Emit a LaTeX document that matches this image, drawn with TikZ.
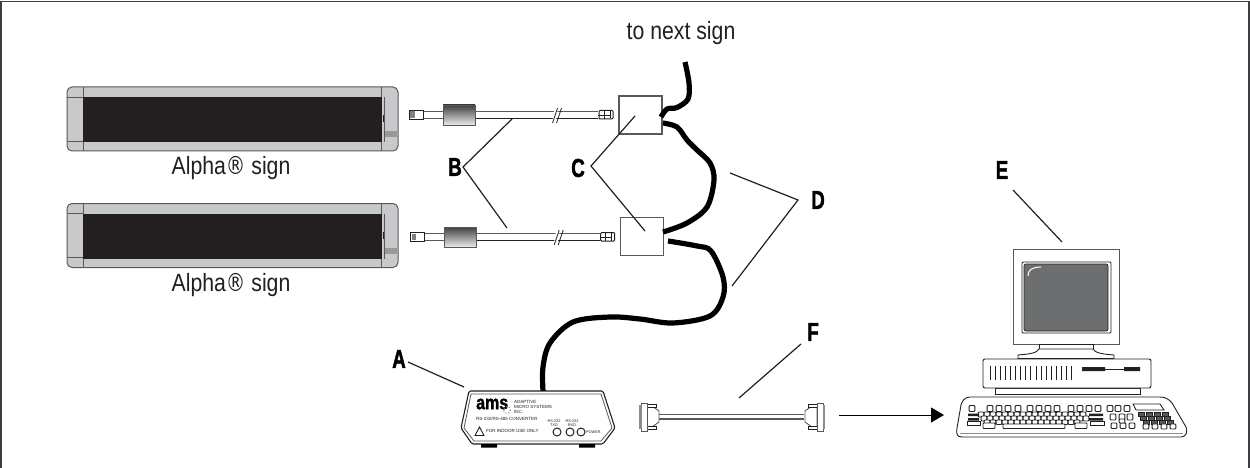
\documentclass[tikz,border=0pt]{standalone}
\usepackage{fontspec}
\usetikzlibrary{arrows.meta}
\setmainfont{Liberation Sans}
\newfontface\condreg[FakeStretch=0.85]{Liberation Sans}
\newfontface\regmark[FakeStretch=0.78]{DejaVu Sans}
\newfontface\condbold[FakeStretch=0.72,FakeBold=1.6]{Liberation Sans Bold}
\newfontface\amsbold[FakeStretch=0.82,FakeBold=1.5]{Liberation Sans Bold}
\definecolor{signgray}{HTML}{C8C9CB}
\definecolor{inkblack}{HTML}{231F20}
\definecolor{edgegray}{HTML}{58595B}
\definecolor{screengray}{HTML}{6D6E70}
\tikzset{
  caption/.style={font=\condreg\fontsize{25}{28}\selectfont,inner sep=0pt,text=inkblack},
  letter/.style={font=\condbold\fontsize{26}{28}\selectfont,inner sep=0pt,text=black},
  leader/.style={draw=inkblack,line width=1.2pt},
  thickcable/.style={draw=black,line width=5.2pt},
  tiny/.style={font=\fontsize{4.5}{5}\selectfont,inner sep=0pt,text=inkblack,anchor=west},
  splitter/.style={draw=edgegray,line width=1.1pt,fill=white,minimum width=43pt,minimum height=38pt,inner sep=0pt},
  kkey/.style={draw=inkblack,line width=.95pt,fill=white,rounded corners=.8pt},
  dkey/.style={draw=inkblack,line width=.9pt,fill=edgegray},
  led/.style={draw=inkblack,line width=1pt,fill=white,circle,minimum size=8pt,inner sep=0pt},
}
\newcommand{\signshape}{%
  \fill[signgray,rounded corners=5pt] (67,87) rectangle (398,151);
  \fill[inkblack] (83,97) rectangle (382,142);
  \fill[inkblack] (382.5,115) rectangle (384,122);
  \fill[black!40] (385,131) rectangle (397,137);
  \draw[edgegray,line width=1pt,rounded corners=5pt] (67,87) rectangle (398,151);
  \draw[edgegray,line width=.8pt] (83,87)--(83,97) (83,142)--(83,151) (67,97)--(83,97) (67,141)--(83,141)
    (381,87)--(381,97) (381,142)--(381,151) (384,97)--(384,142);
}
\newcommand{\lancable}{%
  \draw[edgegray,line width=1pt,fill=white] (423,111.5) rectangle (443,118.5);
  \fill[white] (475,111) rectangle (598,119);
  \draw[edgegray,line width=1.1pt] (475,111.5)--(598,111.5);
  \draw[inkblack,line width=1.1pt] (475,118.5)--(598,118.5);
  \fill[white] (554.5,108) -- (558,108) -- (555.5,123) -- (552,123) -- cycle;
  \draw[inkblack,line width=.8pt] (552.5,123)--(557.5,108) (556.5,123)--(561.5,108);
  \draw[edgegray,line width=.8pt,top color=black!75,bottom color=black!8] (443,105) rectangle (475,125);
  \draw[inkblack,line width=.8pt,fill=white] (409,110.5) rectangle (423,119);
  \fill[black!50] (410,111.5) rectangle (414.5,118);
  \draw[inkblack,line width=1pt,fill=white,rounded corners=1pt] (599,110.5) rectangle (613,119);
  \draw[inkblack,line width=.8pt] (604,110.5)--(604,119) (598,115)--(610,115) (610,111)--(610,118.5);
}
\newcommand{\dbend}{%
  \draw[edgegray,line width=.9pt,fill=white] (647,406) -- (652,406) -- (659,411) -- (659,422) -- (652,427) -- (647,427) -- cycle;
  \draw[inkblack,line width=.8pt,fill=white] (647,404) rectangle (656,407);
  \draw[inkblack,line width=.8pt,fill=white] (647,426) rectangle (656,429);
  \draw[edgegray,line width=1pt,fill=white] (641,403) rectangle (647,431);
  \fill[black!45] (639,405) rectangle (641.5,429);
}
\newcommand{\kk}[3]{\draw[kkey] (#1-2.8,#2) rectangle (#1+2.8,#2+#3);}
\begin{document}
\begin{tikzpicture}[x=1pt,y=-1pt]
\useasboundingbox (0,0) rectangle (1250,468);
\fill[white] (0,0) rectangle (1250,468);
\draw[edgegray!70!black,line width=1.6pt] (.8,468) -- (.8,1.5) -- (1249.2,1.5) -- (1249.2,468);

% signs
\signshape
\begin{scope}[shift={(0,116.5)}]\signshape\end{scope}
\node[caption] (cap1) at (231,168) {Alpha{\regmark ®} sign};
\node[caption] (cap2) at (231,285) {Alpha{\regmark ®} sign};
\node[caption] (next) at (681,33) {to next sign};

% sign cables
\lancable
\begin{scope}[shift={(1.7,122)}]\lancable\end{scope}

% splitters
\node[splitter] (box1) at (640.5,115) {};
\node[splitter] (box2) at (642,236.5) {};

% thick cables
\coordinate (nextEnd) at (685,62);
\coordinate (box1a) at (661,117);
\coordinate (box1b) at (663,123);
\coordinate (box2a) at (663,232);
\coordinate (box2b) at (668,241);
\coordinate (amsTop) at (543,391);
\draw[thickcable] plot[smooth,tension=.55] coordinates {(nextEnd) (689,83) (688,99) (677,107.5) (667,109) (box1a)};
\draw[thickcable] plot[smooth,tension=.55] coordinates {(box1b) (677,127) (687,140) (697,150) (710,163) (714,180) (707,207) (687,223) (box2a)};
\draw[thickcable] plot[smooth,tension=.55] coordinates {(box2b) (697,246) (711,251) (723,277) (723,297) (710,316) (673,323) (640,319) (610,317) (573,322) (550,343) (543,367) (amsTop)};

% converter box
\draw[inkblack,line width=1.1pt,fill=white,rounded corners=1.5pt] (469,391) -- (603,391) -- (615,428) -- (603,444) -- (472,444) -- (461,428) -- cycle;
\draw[edgegray,line width=.8pt] (471,394) -- (601,394) -- (612,428) -- (601,441) -- (474,441) -- (464,428) -- cycle;
\fill[black] (481,444) rectangle (497,447.5) (579,444) rectangle (595,447.5);
\node[anchor=west,inner sep=0pt,font=\amsbold\fontsize{19.5}{22}\selectfont,text=black] (amslogo) at (476,404) {ams};
\draw[gray,line width=1pt,dotted] (507,410) circle (3.5);
\node[tiny] (t1) at (514,402) {ADAPTIVE};
\node[tiny] (t2) at (514,407) {MICRO SYSTEMS};
\node[tiny] (t3) at (514,412) {INC.};
\node[tiny] (t4) at (476,419) {RS-232/RS-485 CONVERTER};
\node[tiny] (t5) at (486,431) {FOR INDOOR USE ONLY};
\node[tiny,anchor=center,font=\fontsize{3.8}{4}\selectfont,align=center] (t6) at (554,423) {RS-232\\[-.5pt]TXD};
\node[tiny,anchor=center,font=\fontsize{3.8}{4}\selectfont,align=center] (t7) at (572,423) {RS-232\\[-.5pt]RXD};
\node[tiny,font=\fontsize{3.8}{4}\selectfont] (t8) at (586,432) {POWER};
\draw[inkblack,line width=.9pt,fill=white] (475,435.5) -- (479.5,427) -- (484,435.5) -- cycle;
\node[led] (l1) at (557,432) {};
\node[led] (l2) at (570,432) {};
\node[led] (l3) at (581,432) {};

% serial cable
\coordinate (dbL) at (659,416.5);
\coordinate (dbR) at (804,416.5);
\draw[edgegray,line width=6pt] (dbL) -- (dbR);
\draw[white,line width=3pt] (dbL) -- (dbR);
\dbend
\begin{scope}[shift={(1464,0)},xscale=-1]\dbend\end{scope}

% arrow
\coordinate (arrS) at (839,415);
\coordinate (arrE) at (944,415);
\draw[draw=black,line width=.9pt,-{Triangle[length=13pt,width=15pt]}] (arrS) -- (arrE);

% monitor
\draw[edgegray,line width=1pt,fill=white] (1013,249) rectangle (1119,344);
\draw[inkblack,line width=.8pt,rounded corners=1pt] (1022,262) rectangle (1111,333);
\fill[screengray,rounded corners=2pt,draw=inkblack,line width=.7pt] (1024,264) rectangle (1108,331);
\draw[white,line width=1pt] (1028,276) .. controls (1028,270) and (1032,267) .. (1041,267);
\draw[inkblack,line width=.9pt,fill=white] (1039,344) rectangle (1093,349);
\draw[inkblack,line width=.9pt,fill=white] (1039,349) .. controls (1037,353) and (1030,354) .. (1018,355) -- (1018,358.5) -- (1114,358.5) -- (1114,355) .. controls (1102,354) and (1095,353) .. (1093,349) -- cycle;
% system unit
\draw[inkblack,line width=.9pt,fill=white] (995,388) rectangle (1140,394);
\draw[inkblack,line width=.9pt,fill=white,rounded corners=2pt] (983,359) rectangle (1151,388);
\foreach \v in {0,...,16} {\draw[inkblack,line width=.8pt] ({990+\v*5.1},366) -- ({990+\v*5.1},380);}
\fill[inkblack] (1082,367) rectangle (1105,371) (1124,367) rectangle (1140,371);
\draw[inkblack,line width=1pt] (1105,369) -- (1124,369);
% keyboard
\draw[inkblack,line width=.9pt,fill=white] (970,397) .. controls (964,397) and (962,402) .. (961,405) -- (957,428) .. controls (956,434) and (957,437) .. (962,437) -- (1181,437) .. controls (1186,437) and (1188,432) .. (1186,427) -- (1172,403) .. controls (1169,399) and (1165,397) .. (1160,397) -- cycle;
\draw[black!45,line width=.8pt] (960,433.5) -- (1183,433.5);
\foreach \x in {972,990,999,1008,1018,1030,1039,1048,1057,1071,1080,1089,1098,1110,1118,1127} {\kk{\x}{405.5}{6}}
\foreach \x in {981,987,993,999,1005,1011,1017,1023,1029,1035,1041,1047,1053,1059,1065,1071,1077,1083} {\kk{\x}{412}{5}}
\foreach \x in {984,990,996,1002,1008,1014,1020,1026,1032,1038,1044,1050,1056,1062,1068,1074,1080,1086} {\kk{\x}{416}{5}}
\foreach \x in {987,993,999,1005,1011,1017,1023,1029,1035,1041,1047,1053,1059,1065,1071,1077} {\kk{\x}{420}{4.5}}
\fill[inkblack] (968,413.5) rectangle (979,416) (968,418) rectangle (979,420.5) (1089,413.5) rectangle (1103,416) (1089,418) rectangle (1103,420.5);
\draw[inkblack,line width=.9pt,fill=white] (967.5,421) rectangle (980,425) (1090,421) rectangle (1104,425);
\draw[kkey] (983,423) rectangle (995,428.5);
\draw[kkey] (1003,424) rectangle (1065,428.5);
\draw[kkey] (1075,423) rectangle (1087,428.5);
\foreach \x in {1113,1122,1130} {\kk{\x}{414}{6}}
\foreach \x in {1114,1123,1132} {\kk{\x}{423}{5.5}}
\kk{1122}{419}{4}
\draw[inkblack,line width=.9pt,fill=white] (1133,404) -- (1160,404) -- (1164,410) -- (1136,410) -- cycle;
\foreach \x/\y in {1141/412,1149/412,1157/412,1165/412,1143/416,1151/416,1159/416,1167/416,1146/420,1154/420,1162/420,1170/420} {\draw[dkey] (\x-3,\y) rectangle (\x+3,\y+4);}
\foreach \x in {1146,1155,1164,1173} {\kk{\x}{424}{5}}

% leaders and letters
\node[letter] (A) at (399,359) {A};
\coordinate (Aend) at (464,387);
\draw[leader] (A.east) ++(2,3) -- (Aend);
\node[letter] (B) at (455,167) {B};
\coordinate (Bapex) at (463,167);
\coordinate (Bup) at (512,119);
\coordinate (Bdn) at (507,228);
\draw[leader] (Bup) -- (Bapex) -- (Bdn);
\node[letter] (C) at (578,168) {C};
\coordinate (Capex) at (591,166);
\coordinate (Cup) at (635,116);
\coordinate (Cdn) at (645,231);
\draw[leader] (Cup) -- (Capex) -- (Cdn);
\node[letter] (D) at (818,200) {D};
\coordinate (Dapex) at (798,200);
\coordinate (Dup) at (730,173);
\coordinate (Ddn) at (732,286);
\draw[leader] (Dup) -- (Dapex) -- (Ddn);
\node[letter] (E) at (1002,170) {E};
\coordinate (Estart) at (1013,190);
\coordinate (Eend) at (1062,242);
\draw[leader] (Estart) -- (Eend);
\node[letter] (F) at (813,332) {F};
\coordinate (Fstart) at (801,344);
\coordinate (Fend) at (739,398);
\draw[leader] (Fstart) -- (Fend);
\end{tikzpicture}
\end{document}
